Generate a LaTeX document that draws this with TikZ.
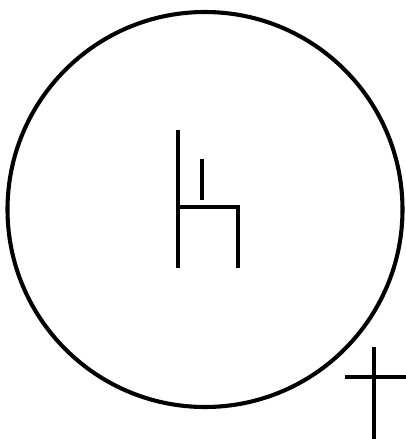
\documentclass[tikz,border=0pt]{standalone}
\usetikzlibrary{positioning}

\begin{document}
\begin{tikzpicture}[
  x=0.025cm,y=-0.025cm,
  ring/.style={draw=black,line width=2.9pt},
  chairline/.style={draw=black,line width=3.4pt},
  crossline/.style={draw=black,line width=3.2pt},
]
\useasboundingbox (0,0) rectangle (406,439);
% ---------- outer circle ----------
\coordinate (ctr) at (205,209.5);
\draw[ring] (ctr) circle (197.5);
% ---------- chair ----------
\coordinate (back top) at (178,130);
\coordinate (back low) at (178,268);
\coordinate (rest top) at (202,159);
\coordinate (rest low) at (202,200);
\coordinate (seat) at (178,207);
\draw[chairline] (back top) -- (back low);
\draw[chairline] (rest top) -- (rest low);
\draw[chairline] (seat) -- (238,207) -- (238,268);
% ---------- cross at lower right ----------
\coordinate (post top) at (374,347);
\coordinate (post low) at (374,439);
\draw[crossline] (post top) -- (post low);
\draw[crossline] (345,377) -- (406,377);
\end{tikzpicture}
\end{document}
